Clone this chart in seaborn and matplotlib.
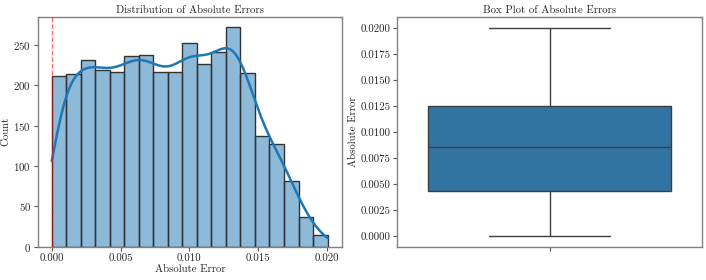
import numpy as np
import pandas as pd
import seaborn as sns
from matplotlib import pyplot as plt

# bin counts (19 equal bins from 0 to ~0.02005)
bin_counts = [211, 214, 231, 219, 216, 236, 238, 216, 216, 252,
              226, 241, 272, 215, 137, 127, 81, 37, 14]
x_min, x_max = 0.0, 0.02005

# five-number summary
box_values = [0.0, 0.00434, 0.00856, 0.01249, 0.02004]

n_bins = len(bin_counts)
width = (x_max - x_min) / n_bins
centers = x_min + width * (np.arange(n_bins) + 0.5)
df_hist = pd.DataFrame({"abs_error": centers, "count": bin_counts})
df_box = pd.DataFrame({"abs_error": box_values})

sns.set_style("white")
plt.rcParams["font.family"] = ["cmr10", "DejaVu Serif"]
plt.rcParams["mathtext.fontset"] = "cm"
plt.rcParams["axes.unicode_minus"] = False
plt.rcParams["axes.formatter.use_mathtext"] = True
fs = 7.8

fig = plt.figure(figsize=(7.06, 2.8), dpi=100)
ax1 = fig.add_axes([38 / 706, 1 - 246.7 / 280, 304 / 706, 230 / 280])
ax2 = fig.add_axes([397.3 / 706, 1 - 246.7 / 280, 304.4 / 706, 230 / 280])

# histogram + kde
bw = 0.2
sns.histplot(data=df_hist, x="abs_error", weights="count", bins=n_bins,
             binrange=(x_min, x_max), kde=True, color="C0", alpha=0.5,
             edgecolor="#333333", linewidth=1.0,
             kde_kws={"bw_method": bw, "cut": 0.6, "clip": (x_min, x_max)},
             line_kws={"linewidth": 1.8},
             ax=ax1)
ax1.axvline(0, color="red", linestyle="--", alpha=0.6, linewidth=0.9, zorder=5)
ax1.set_title("Distribution of Absolute Errors", fontsize=fs, pad=3)
ax1.set_xlabel("Absolute Error", fontsize=fs, labelpad=1)
ax1.set_ylabel("Count", fontsize=fs, labelpad=2)
ax1.set_xticks([0.0, 0.005, 0.01, 0.015, 0.02])
ax1.set_xticklabels(["0.000", "0.005", "0.010", "0.015", "0.020"])
ax1.set_yticks([0, 50, 100, 150, 200, 250])
ax1.set_ylim(0, 285)
ax1.set_xlim(-0.0010, 0.0211)

# box plot
sns.boxplot(data=df_box, y="abs_error", ax=ax2, width=0.8)
ax2.set_title("Box Plot of Absolute Errors", fontsize=fs, pad=3)
ax2.set_ylabel("Absolute Error", fontsize=fs, labelpad=2)
ax2.set_yticks([0.0, 0.0025, 0.005, 0.0075, 0.01, 0.0125, 0.015, 0.0175, 0.02])
ax2.set_yticklabels(["0.0000", "0.0025", "0.0050", "0.0075", "0.0100",
                     "0.0125", "0.0150", "0.0175", "0.0200"])
ax2.set_ylim(-0.0010, 0.0211)

for ax in (ax1, ax2):
    for sp in ax.spines.values():
        sp.set_color("#808080")
        sp.set_linewidth(1.0)
    ax.tick_params(axis="both", length=3, width=0.8, color="#555555",
                   direction="out", bottom=True, left=True, labelsize=fs, pad=2)

plt.savefig("out.png", dpi=100)
